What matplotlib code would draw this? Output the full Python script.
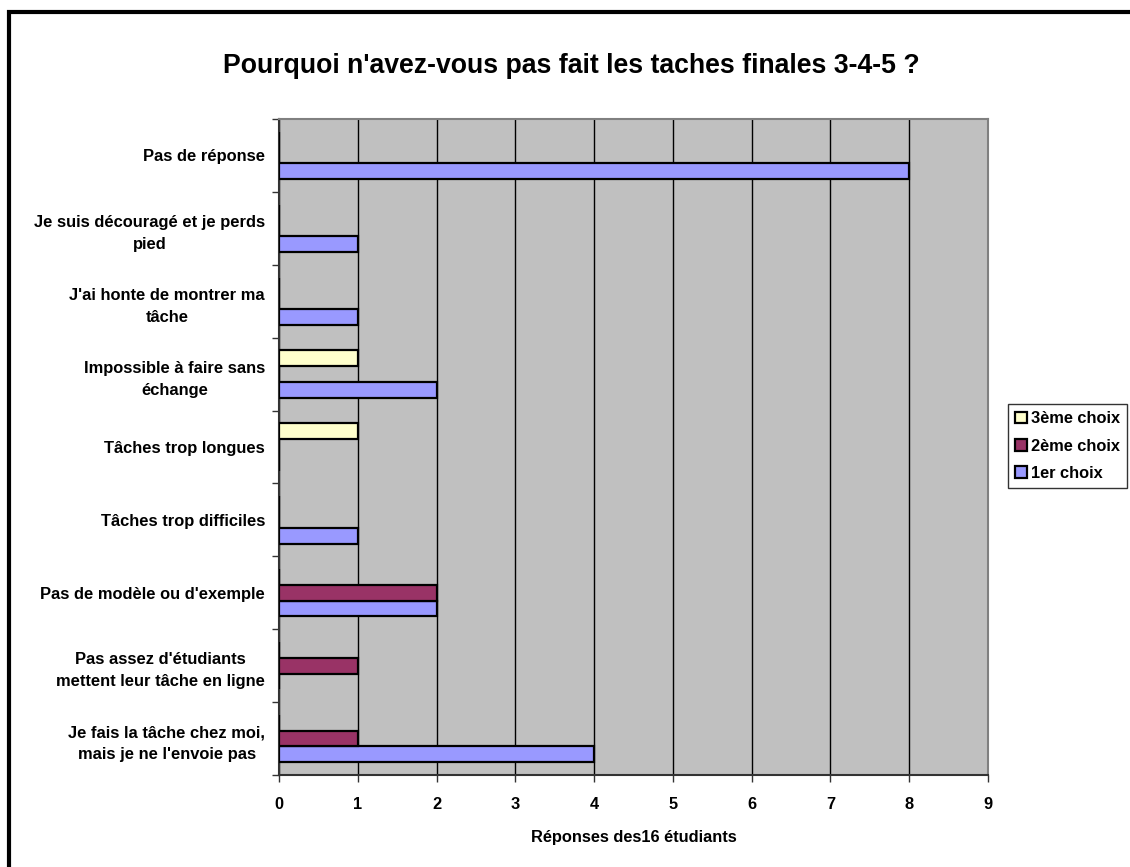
import numpy as np
import matplotlib
matplotlib.use('Agg')
import matplotlib.pyplot as plt
from matplotlib.patches import Rectangle

plt.rcParams['font.family'] = ['Liberation Sans', 'DejaVu Sans']
plt.rcParams['font.weight'] = 'bold'

# Categories, bottom to top (as drawn)
categories = [
    "Je fais la tâche chez moi,\nmais je ne l'envoie pas",
    "Pas assez d'étudiants\nmettent leur tâche en ligne",
    "Pas de modèle ou d'exemple",
    "Tâches trop difficiles",
    "Tâches trop longues",
    "Impossible à faire sans\néchange",
    "J'ai honte de montrer ma\ntâche",
    "Je suis découragé et je perds\npied",
    "Pas de réponse",
]
choix1 = [4, 0, 2, 1, 0, 2, 1, 1, 8]
choix2 = [1, 1, 2, 0, 0, 0, 0, 0, 0]
choix3 = [0, 0, 0, 0, 1, 1, 0, 0, 0]

series_names = ['1er choix', '2ème choix', '3ème choix']
colors = ['#9999FF', '#993366', '#FFFFCC']

fig = plt.figure(figsize=(11.3, 8.67), dpi=100)
ax = fig.add_axes([279/1130, 1 - 775/867, (988-279)/1130, (775-119)/867])
ax.set_facecolor('#C0C0C0')

y = np.arange(len(categories))
h = 0.216
bars = []
for k, (vals, col) in enumerate(zip([choix1, choix2, choix3], colors)):
    b = ax.barh(y + (k - 1) * h, vals, height=h, color=col, edgecolor='black',
                linewidth=1.6, label=series_names[k], zorder=3)
    bars.append(b)

ax.set_xlim(0, 9)
ax.set_ylim(-0.5, len(categories) - 0.5)
ax.set_xticks(range(10))
ax.xaxis.grid(True, color='black', linewidth=1, zorder=1)
ax.set_axisbelow(True)
ax.tick_params(axis='x', length=5, width=1, labelsize=11.8, pad=11, color='#333333')

ax.set_yticks(y)
ax.set_yticklabels(categories, fontsize=11.9, multialignment='center', linespacing=1.6)
ax.tick_params(axis='y', which='major', length=0, pad=10)
ax.set_yticks(np.arange(-0.5, len(categories), 1.0), minor=True)
ax.tick_params(axis='y', which='minor', length=5, width=1, color='#333333')

for s in ['top', 'right']:
    ax.spines[s].set_color('#808080')
    ax.spines[s].set_linewidth(1.5)
for s in ['left', 'bottom']:
    ax.spines[s].set_color('#333333')
    ax.spines[s].set_linewidth(1.5)

ax.set_xlabel('Réponses des16 étudiants', fontsize=11.8, fontweight='bold', labelpad=13)

fig.text(571/1130, 1 - 66/867, "Pourquoi n'avez-vous pas fait les taches finales 3-4-5 ?",
         ha='center', va='center', fontsize=19.2, fontweight='bold')

handles = [bars[2], bars[1], bars[0]]
leg = fig.legend(handles, [series_names[2], series_names[1], series_names[0]],
                 loc='upper left', bbox_to_anchor=(1008/1130, 1 - 404/867),
                 bbox_transform=fig.transFigure, fontsize=11.8, frameon=True,
                 fancybox=False, handlelength=0.7, handleheight=0.7,
                 handletextpad=0.25, labelspacing=0.75, borderpad=0.45,
                 borderaxespad=0)
leg.get_frame().set_edgecolor('black')
leg.get_frame().set_linewidth(1)

# outer chart border
fig.patches.append(Rectangle((8.5/1130, -0.05), 1.1, 1 - 11.5/867 + 0.05,
                             transform=fig.transFigure, fill=False,
                             edgecolor='black', linewidth=3))

fig.savefig('out.png', dpi=100)
